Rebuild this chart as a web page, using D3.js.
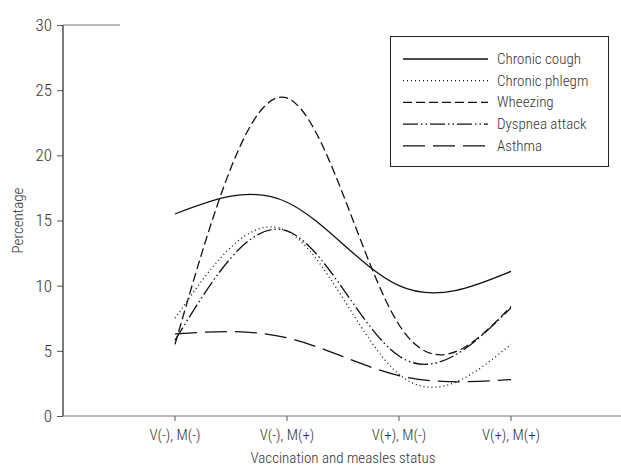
<!DOCTYPE html>
<html><head><meta charset="utf-8">
<script src="https://cdn.jsdelivr.net/npm/d3@7"></script>
<style>
body{margin:0;background:#fff;}
text{font-family:"Roboto Condensed",Roboto,sans-serif;font-weight:300;fill:#333;}
</style></head>
<body><svg id="c" width="621" height="468"></svg>
<script>
const categories = ["V(-), M(-)", "V(-), M(+)", "V(+), M(-)", "V(+), M(+)"];
const seriesNames = ["Chronic cough", "Chronic phlegm", "Wheezing", "Dyspnea attack", "Asthma"];
const chronicCough = [15.5, 16.4, 10.0, 11.1];
const chronicPhlegm = [7.5, 14.2, 3.2, 5.5];
const wheezing = [5.5, 24.4, 7.0, 8.4];
const dyspneaAttack = [5.8, 14.2, 4.6, 8.3];
const asthma = [6.3, 6.0, 3.1, 2.8];
const yTicks = [0, 5, 10, 15, 20, 25, 30];

const dashes = ["none", "1,3", "9,4", "15,3,1.5,3,1.5,3", "22,8"];
const allSeries = [chronicCough, chronicPhlegm, wheezing, dyspneaAttack, asthma];

const svg = d3.select("#c");
const x = d3.scaleLinear().domain([-1, 4]).range([63, 623]);
const y = d3.scaleLinear().domain([0, 30]).range([416, 25]);

// x axis
const gx = svg.append("g").attr("transform", "translate(0,416)");
gx.append("line").attr("x1", 63).attr("x2", 621).attr("stroke", "#777").attr("stroke-width", 1.2);
categories.forEach((c, i) => {
  gx.append("line").attr("x1", x(i)).attr("x2", x(i)).attr("y1", 0).attr("y2", 5).attr("stroke", "#555");
  gx.append("text").attr("x", x(i)).attr("y", 24).attr("text-anchor", "middle").attr("font-size", 15).text(c);
});
svg.append("text").attr("x", x(1.5)).attr("y", 463).attr("text-anchor", "middle").attr("font-size", 15).text("Vaccination and measles status");

// y axis
const gy = svg.append("g").attr("transform", "translate(63,0)");
gy.call(d3.axisLeft(y).tickValues(yTicks).tickSize(6).tickPadding(5));
gy.select(".domain").remove();
gy.selectAll(".tick line").attr("stroke", "#555");
gy.selectAll(".tick text").attr("font-size", 17).attr("font-family", "Roboto,sans-serif").attr("font-weight", 300).attr("fill", "#333");
gy.append("line").attr("y1", y(30)).attr("y2", y(0)).attr("stroke", "#222").attr("stroke-width", 1.2);
svg.append("line").attr("x1", 63).attr("x2", 120).attr("y1", y(30)).attr("y2", y(30)).attr("stroke", "#777").attr("stroke-width", 1.2);
svg.append("text").attr("transform", `translate(23,${y(15)}) rotate(-90)`).attr("text-anchor", "middle").attr("font-size", 15).text("Percentage");

// lines
const line = d3.line().x((d, i) => x(i)).y(d => y(d)).curve(d3.curveNatural);
allSeries.forEach((s, k) => {
  svg.append("path").attr("d", line(s)).attr("fill", "none").attr("stroke", "#111")
    .attr("stroke-width", 1.3).attr("stroke-dasharray", dashes[k]);
});

// legend
const lg = svg.append("g");
lg.append("rect").attr("x", 390.5).attr("y", 36.5).attr("width", 218).attr("height", 130).attr("fill", "#fff").attr("stroke", "#222");
seriesNames.forEach((n, k) => {
  const yy = 59 + k * 21.7;
  lg.append("line").attr("x1", 403).attr("x2", 488).attr("y1", yy).attr("y2", yy).attr("stroke", "#111").attr("stroke-width", 1.3).attr("stroke-dasharray", dashes[k]);
  lg.append("text").attr("x", 497).attr("y", yy + 5).attr("font-size", 15).text(n);
});
</script></body></html>
